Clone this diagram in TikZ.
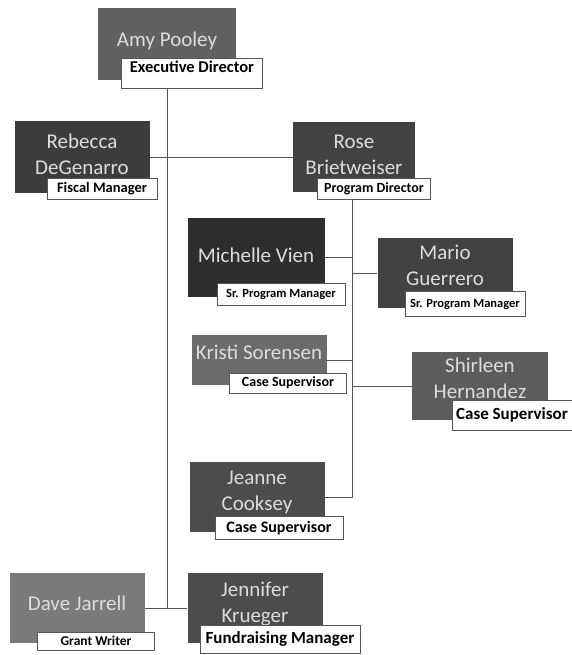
\documentclass[tikz,border=0pt]{standalone}
\usepackage{fontspec}
\setmainfont{Carlito}
\usepackage{xcolor}
\usepackage{tikz}

\definecolor{linegray}{HTML}{555555}
\definecolor{namegray}{HTML}{DDDDDD}

\tikzset{
  card/.style={fill=#1, inner sep=0pt, minimum width=135pt, minimum height=70pt},
  who/.style={text=namegray, align=center, inner sep=0pt,
    font=\fontsize{21}{26}\selectfont},
  role/.style={draw=linegray, fill=white, line width=0.9pt, inner sep=0pt,
    font=\bfseries\fontsize{#1}{#1}\selectfont},
  link/.style={draw=linegray, line width=0.9pt}
}

\begin{document}
\begin{tikzpicture}[x=1pt, y=-1pt]
  \useasboundingbox[fill=white] (0,0) rectangle (572,655);

  % people
  \node[card=black!62, minimum width=138pt, minimum height=72pt] (amy) at (167,44) {};
  \node[who] (amy-n) at ([yshift=3pt]amy) {Amy Pooley};
  \node[card=black!76, minimum height=71pt] (rebecca) at (82,157) {};
  \node[who] (rebecca-n) at ([yshift=3pt]rebecca) {Rebecca\\DeGenarro};
  \node[card=black!74, minimum width=122pt, minimum height=69pt] (rose) at (354,157) {};
  \node[who] (rose-n) at ([yshift=2pt]rose) {Rose\\Brietweiser};
  \node[card=black!82, minimum width=137pt, minimum height=79pt] (michelle) at (256,257) {};
  \node[who] (michelle-n) at ([yshift=2pt]michelle) {Michelle Vien};
  \node[card=black!74] (mario) at (445,273) {};
  \node[who] (mario-n) at ([yshift=8pt]mario) {Mario\\Guerrero};
  \node[card=black!58, minimum height=50pt] (kristi) at (259,360) {};
  \node[who] (kristi-n) at ([yshift=8pt]kristi) {Kristi Sorensen};
  \node[card=black!64, minimum width=136pt, minimum height=68pt] (shirleen) at (480,386) {};
  \node[who] (shirleen-n) at ([yshift=8pt]shirleen) {Shirleen\\Hernandez};
  \node[card=black!70] (jeanne) at (257,497) {};
  \node[who] (jeanne-n) at ([yshift=5pt]jeanne) {Jeanne\\Cooksey};
  \node[card=black!52] (dave) at (77,608) {};
  \node[who] (dave-n) at ([yshift=5pt]dave) {Dave Jarrell};
  \node[card=black!70] (jennifer) at (255,608) {};
  \node[who] (jennifer-n) at ([yshift=4pt]jennifer) {Jennifer\\Krueger};

  % titles
  \node[role=16.5, minimum width=141pt, minimum height=30pt, text depth=12pt] (exec) at (192,73) {Executive Director};
  \node[role=14.5, minimum width=110pt, minimum height=21pt] (fiscal) at (102,189) {Fiscal Manager};
  \node[role=14, minimum width=113pt, minimum height=21pt] (progdir) at (374,189) {Program Director};
  \node[role=12.5, minimum width=128pt, minimum height=22pt] (michelle-r) at (281,294) {Sr. Program Manager};
  \node[role=12.5, minimum width=120pt, minimum height=25pt] (mario-r) at (465,304) {Sr. Program Manager};
  \node[role=14, minimum width=117pt, minimum height=20pt] (kristi-r) at (288,383) {Case Supervisor};
  \node[role=17, minimum width=120pt, minimum height=30pt] (shirleen-r) at (512,415) {Case Supervisor};
  \node[role=16, minimum width=128pt, minimum height=23pt] (jeanne-r) at (279,528) {Case Supervisor};
  \node[role=13.5, minimum width=117pt, minimum height=18pt] (dave-r) at (96,641) {Grant Writer};
  \node[role=17, minimum width=160pt, minimum height=28pt] (jennifer-r) at (280,639) {Fundraising Manager};

  % lines
  \draw[link] (amy |- exec.south) -- (amy |- jennifer.west);
  \draw[link] (rebecca.east) -- (rose.west);
  \draw[link] (dave.east) -- (jennifer.west);
  \draw[link] ([xshift=-2pt]rose |- progdir.south) -- ([xshift=-2pt]rose |- jeanne.east) -- (jeanne.east);
  \draw[link] (michelle.east) -- ([xshift=-2pt]rose |- michelle.east);
  \draw[link] ([xshift=-2pt]rose |- mario.west) -- (mario.west);
  \draw[link] (kristi.east) -- ([xshift=-2pt]rose |- kristi.east);
  \draw[link] ([xshift=-2pt]rose |- shirleen.west) -- (shirleen.west);
\end{tikzpicture}
\end{document}
